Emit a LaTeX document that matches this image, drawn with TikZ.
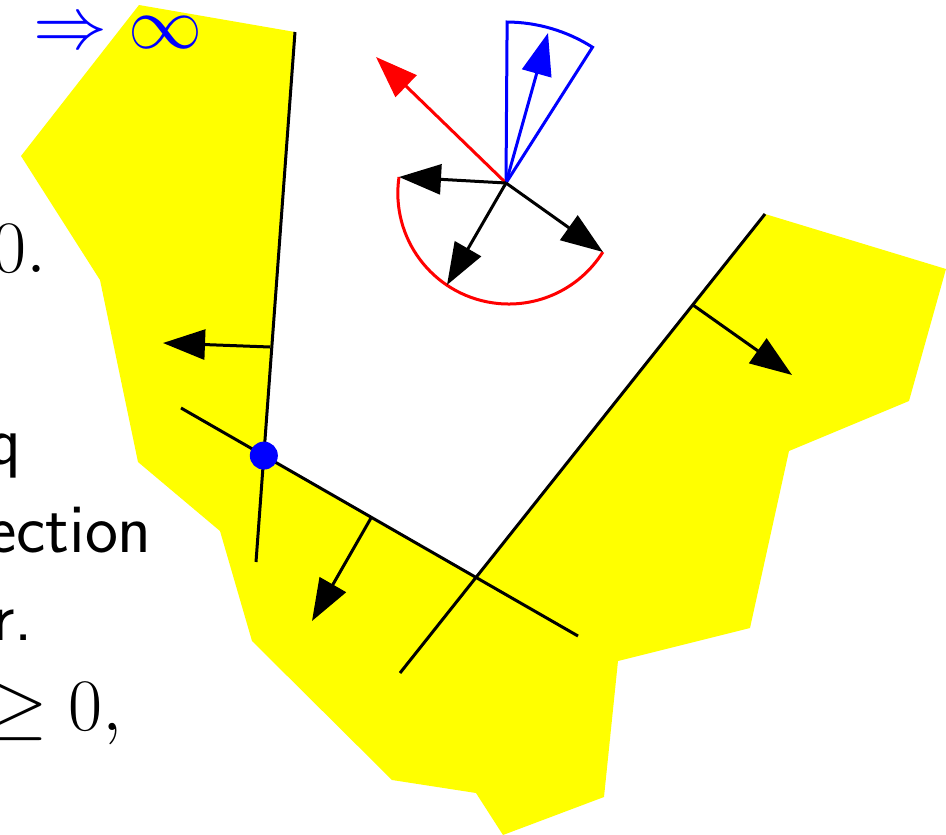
\documentclass[tikz,border=0pt]{standalone}
\usetikzlibrary{arrows.meta}
\definecolor{planefill}{RGB}{255,255,0}

\begin{document}
\begin{tikzpicture}[x=1pt, y=-1pt,
        region/.style={fill=planefill, draw=none},
        bound/.style={draw=black, line width=3pt},
        normal/.style={draw=black, line width=3pt, -{Triangle[length=42pt, width=30pt]}},
        cone/.style={line width=3pt},
        mathtxt/.style={inner sep=0pt, font=\fontsize{24.88}{30}\selectfont, scale=2.974, transform shape},
        sanstxt/.style={inner sep=0pt, font=\fontsize{70}{84}\selectfont\sffamily}]

    \useasboundingbox (0,0) rectangle (946,835);

    % half-planes
    \coordinate (a1) at (295,32);  \coordinate (a2) at (256,562);
    \coordinate (b1) at (181,408); \coordinate (b2) at (578,636);
    \coordinate (c1) at (765,214); \coordinate (c2) at (400,673);
    \coordinate (ab) at (intersection of a1--a2 and b1--b2);
    \coordinate (bc) at (intersection of b1--b2 and c1--c2);

    \fill[region] (139,5) -- (a1) -- (ab) -- (bc) -- (c1) -- (946,269) -- (909,401)
        -- (789,451) -- (750,628) -- (618,661) -- (604,797) -- (503,835) -- (476,793)
        -- (392,780) -- (252,641) -- (220,531) -- (138,462) -- (100,280) -- (21,156) -- cycle;

    \draw[bound] (a1) -- (a2);
    \draw[bound] (b1) -- (b2);
    \draw[bound] (c1) -- (c2);

    \coordinate (na) at (270,347); \coordinate (ta) at (163,343);
    \coordinate (nb) at (371,518); \coordinate (tb) at (312,621);
    \coordinate (nc) at (693,305); \coordinate (tc) at (792,375);
    \draw[normal] (na) -- (ta);
    \draw[normal] (nb) -- (tb);
    \draw[normal] (nc) -- (tc);

    \node[circle, fill=blue, minimum size=28pt, inner sep=0pt] (vertex) at (ab) {};

    % cones at the origin
    \coordinate (o) at (506,183);
    \coordinate (red tip) at (376,57);
    \coordinate (blue tip) at (548,33);
    \coordinate (g1) at (399,177);
    \coordinate (g2) at (447,285);
    \coordinate (g3) at (603,252);

    \draw[cone, blue] (o) -- ++(-89.6:161) arc[start angle=-89.6, end angle=-57.5, radius=161] -- cycle;
    \draw[cone, red] (g1) arc[start angle=188.3, end angle=32.1, radius=111];
    \draw[normal, red] (o) -- (red tip);
    \draw[normal, blue] (o) -- (blue tip);
    \draw[normal] (o) -- (g1);
    \draw[normal] (o) -- (g2);
    \draw[normal] (o) -- (g3);

    % text cut at the left
    \node[mathtxt, text=blue, anchor=base west] (limit) at (33,48) {$\Rightarrow \infty$};
    \node[mathtxt, anchor=base east] (zero) at (47,272) {$0.$};
    \node[sanstxt, anchor=base east] (q) at (22,464) {q};
    \node[sanstxt, anchor=base east] (ection) at (152,552) {ection};
    \node[sanstxt, anchor=base east] (r) at (33,640) {r.};
    \node[mathtxt, anchor=base east] (geq) at (123,730) {$\geq 0,$};

\end{tikzpicture}
\end{document}
